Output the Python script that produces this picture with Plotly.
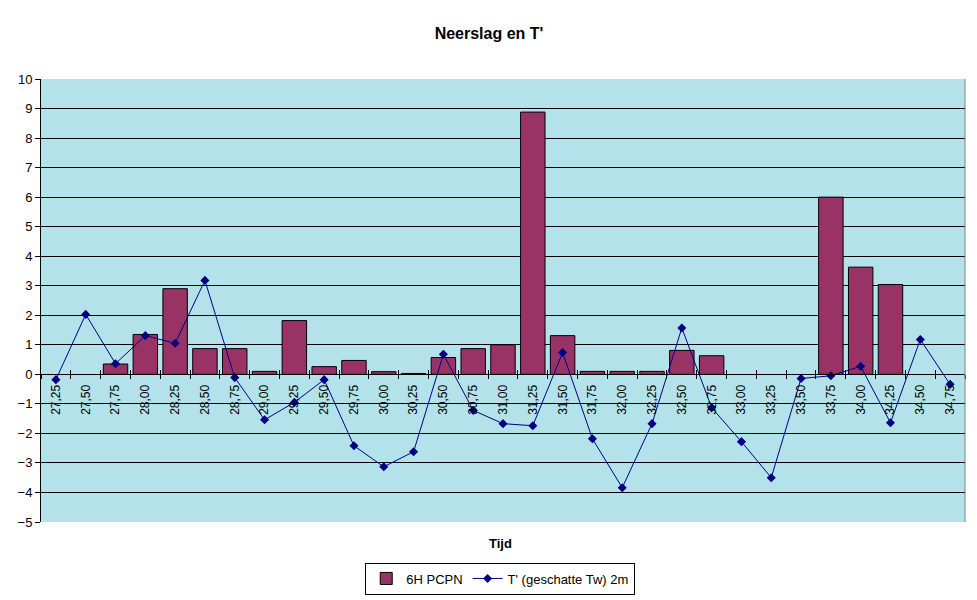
import plotly.graph_objects as go

categories = ["27,25", "27,50", "27,75", "28,00", "28,25", "28,50", "28,75", "29,00",
              "29,25", "29,50", "29,75", "30,00", "30,25", "30,50", "30,75", "31,00",
              "31,25", "31,50", "31,75", "32,00", "32,25", "32,50", "32,75", "33,00",
              "33,25", "33,50", "33,75", "34,00", "34,25", "34,50", "34,75"]

pcpn = [0, 0, 0.35, 1.35, 2.9, 0.87, 0.87, 0.1,
        1.82, 0.26, 0.47, 0.09, 0.03, 0.57, 0.87, 1.0,
        8.88, 1.31, 0.1, 0.1, 0.1, 0.81, 0.63, 0,
        0, 0, 6.0, 3.63, 3.04, 0, 0]

temp = [-0.18, 2.03, 0.36, 1.31, 1.05, 3.18, -0.11, -1.54,
        -0.95, -0.18, -2.42, -3.13, -2.62, 0.68, -1.22, -1.67,
        -1.74, 0.74, -2.18, -3.84, -1.67, 1.57, -1.13, -2.28,
        -3.50, -0.14, -0.05, 0.27, -1.64, 1.18, -0.34]

font = "Liberation Sans, Arial, sans-serif"

fig = go.Figure()
fig.add_trace(go.Bar(
    x=categories, y=[v if v > 0 else None for v in pcpn], name="6H PCPN",
    marker=dict(color="#993366", line=dict(color="black", width=1)),
))
fig.add_trace(go.Scatter(
    x=categories, y=temp, name="T' (geschatte Tw) 2m",
    mode="lines+markers",
    line=dict(color="#000080", width=1),
    marker=dict(symbol="diamond", size=7, color="#000080"),
))
# invisible helper trace so the second (tick-only) x axis is drawn
fig.add_trace(go.Scatter(
    x=categories, y=temp, xaxis="x2", mode="none", showlegend=False,
    hoverinfo="skip",
))

# page body has an 8px margin; figure coordinates = page coordinates - 8
y0_frac = (522 - 374) / 443.0

fig.update_layout(
    width=977, height=600,
    margin=dict(l=33, r=20, t=71, b=86, autoexpand=False),
    paper_bgcolor="white",
    plot_bgcolor="#b3e2eb",
    font=dict(family=font, size=12, color="black"),
    title=dict(text="<b>Neerslag en T'</b>", x=481 / 977.0, xanchor="center",
               y=1 - 25 / 600.0, yanchor="middle", font=dict(size=16)),
    bargap=0.18,
    showlegend=True,
    legend=dict(orientation="h", x=0.497, xanchor="center",
                y=(522 - 578.5) / 443.0, yanchor="middle",
                bordercolor="black", borderwidth=1, bgcolor="white",
                font=dict(size=13), itemwidth=30, tracegroupgap=0),
    xaxis=dict(
        type="category", anchor="free", position=y0_frac,
        range=[-0.5, len(categories) - 0.5], automargin=False,
        showline=True, linecolor="black", linewidth=1,
        ticks="outside", ticklen=4, tickcolor="black", tickson="boundaries",
        ticklabelstandoff=5,
        tickangle=-90, tickfont=dict(size=12),
        showgrid=False, zeroline=False,
    ),
    xaxis2=dict(
        type="category", anchor="free", position=y0_frac, overlaying="x",
        matches="x", automargin=False,
        showline=False, showticklabels=False,
        ticks="inside", ticklen=4, tickcolor="black", tickson="boundaries",
        showgrid=False, zeroline=False,
    ),
    yaxis=dict(
        range=[-5, 10], dtick=1, tick0=0, automargin=False,
        showline=True, linecolor="black", linewidth=1,
        ticks="outside", ticklen=5, tickcolor="black",
        showgrid=True, gridcolor="black", gridwidth=1,
        zeroline=False, tickfont=dict(size=13),
        mirror=False,
    ),
    annotations=[dict(text="<b>Tijd</b>", xref="paper", yref="paper",
                      x=(500 - 41) / 924.0, y=(522 - 543) / 443.0,
                      xanchor="center", yanchor="middle", showarrow=False,
                      font=dict(size=13))],
    shapes=[dict(type="line", xref="paper", yref="paper", x0=1, x1=1, y0=0, y1=1,
                 line=dict(color="#808080", width=1))],
)

fig.write_html("out.html")
